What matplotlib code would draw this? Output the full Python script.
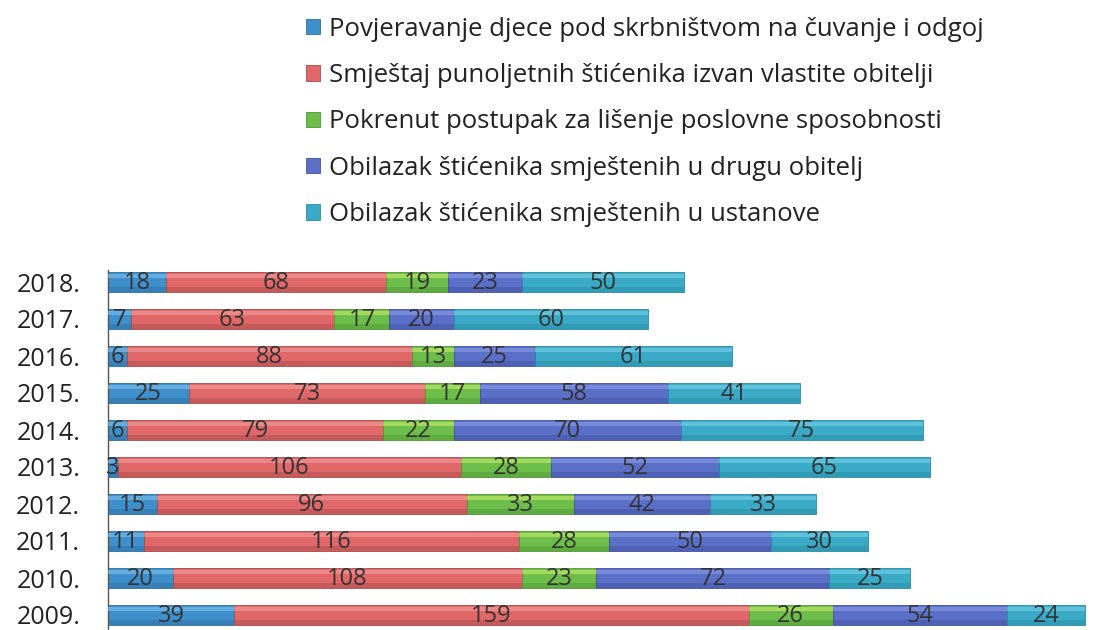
import matplotlib.pyplot as plt
import numpy as np

plt.rcParams['font.family'] = ['Open Sans', 'DejaVu Sans']

years = ["2009.", "2010.", "2011.", "2012.", "2013.", "2014.", "2015.", "2016.", "2017.", "2018."]
series_names = [
    "Povjeravanje djece pod skrbništvom na čuvanje i odgoj",
    "Smještaj punoljetnih štićenika izvan vlastite obitelji",
    "Pokrenut postupak za lišenje poslovne sposobnosti",
    "Obilazak štićenika smještenih u drugu obitelj",
    "Obilazak štićenika smještenih u ustanove",
]
povjeravanje = [39, 20, 11, 15, 3, 6, 25, 6, 7, 18]
smjestaj = [159, 108, 116, 96, 106, 79, 73, 88, 63, 68]
postupak = [26, 23, 28, 33, 28, 22, 17, 13, 17, 19]
obitelj = [54, 72, 50, 42, 52, 70, 58, 25, 20, 23]
ustanove = [24, 25, 30, 33, 65, 75, 41, 61, 60, 50]

colors = ["#3f8fcc", "#e06868", "#6cbd4a", "#5a70c8", "#3aaac6"]
highlights = ["#7fc0ec", "#f4a0a0", "#c8ec6a", "#8c9ee6", "#78d2e8"]
shades = ["#2c6f9f", "#a84a4a", "#4f9634", "#4050a0", "#2a8aa4"]

data = [povjeravanje, smjestaj, postupak, obitelj, ustanove]

fig = plt.figure(figsize=(10.94, 6.3), dpi=100)
ax = fig.add_axes([108 / 1094, 0, 986 / 1094, 360 / 630])

y = np.arange(len(years))
h = 0.55
left = np.zeros(len(years))
handles = []
for vals, c, hl, sh, name in zip(data, colors, highlights, shades, series_names):
    vals = np.array(vals)
    b = ax.barh(y, vals, left=left, height=h, color=c, edgecolor=sh, linewidth=0.6, zorder=2)
    # lichtere bovenrand en donkerdere onderrand voor het 3D-effect
    ax.barh(y + h * 0.28, vals, left=left, height=h * 0.18, color=hl, alpha=0.6, linewidth=0, zorder=3)
    ax.barh(y - h * 0.36, vals, left=left, height=h * 0.22, color=sh, alpha=0.45, linewidth=0, zorder=3)
    handles.append(b)
    for yi, l, v in zip(y, left, vals):
        ax.text(l + v / 2, yi - 0.04, str(v), ha="center", va="center",
                fontsize=17, color="#333333", zorder=4)
    left = left + vals

ax.set_xlim(0, 304.8)
ax.set_ylim(-15 / 37, 345 / 37)
ax.set_yticks(y)
ax.set_yticklabels(years, fontsize=18, color="#222222")
ax.tick_params(axis="y", length=0, pad=20)
ax.set_xticks([])
for s in ["top", "right", "bottom"]:
    ax.spines[s].set_visible(False)
ax.spines["left"].set_color("#555555")
ax.spines["left"].set_linewidth(1)

fig.legend(handles, series_names, loc="upper left", bbox_to_anchor=(283 / 1094, 1.01),
           frameon=False, fontsize=18.5, labelspacing=0.83, handlelength=0.55,
           handleheight=0.55, handletextpad=0.35, labelcolor="#222222")

fig.savefig("out.png", dpi=100)
